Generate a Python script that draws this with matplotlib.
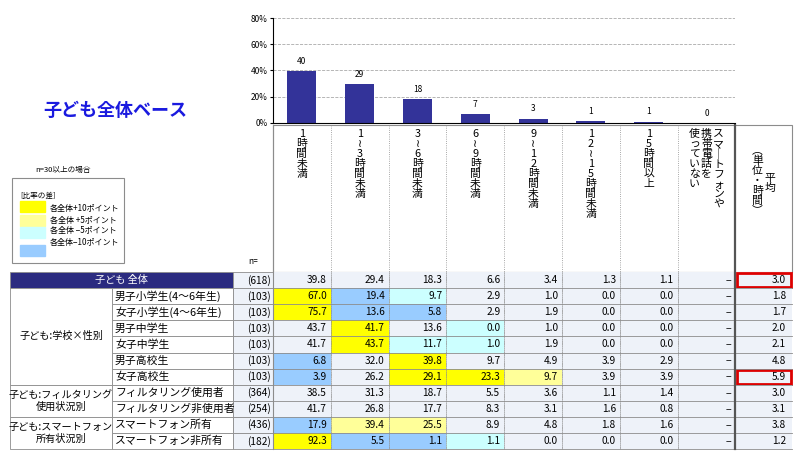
import matplotlib.pyplot as plt
from matplotlib.patches import Rectangle

plt.rcParams['font.family'] = ['Noto Sans CJK JP', 'DejaVu Sans']

# data
columns = ['1時間未満', '1≀3時間未満', '3≀6時間未満', '6≀9時間未満', '9≀12時間未満',
           '12≀15時間未満', '15時間以上', 'スマートフォンや|携帯電話を|使っていない']
groups = [('子ども:学校×性別', 1, 6), ('子ども:フィルタリング\n使用状況別', 7, 8),
          ('子ども:スマートフォン\n所有状況別', 9, 10)]
row_labels = ['子ども 全体', '男子小学生(4～6年生)', '女子小学生(4～6年生)', '男子中学生', '女子中学生',
              '男子高校生', '女子高校生', 'フィルタリング使用者', 'フィルタリング非使用者',
              'スマートフォン所有', 'スマートフォン非所有']
n_values = [618, 103, 103, 103, 103, 103, 103, 364, 254, 436, 182]
values = [
    [39.8, 29.4, 18.3, 6.6, 3.4, 1.3, 1.1],
    [67.0, 19.4, 9.7, 2.9, 1.0, 0.0, 0.0],
    [75.7, 13.6, 5.8, 2.9, 1.9, 0.0, 0.0],
    [43.7, 41.7, 13.6, 0.0, 1.0, 0.0, 0.0],
    [41.7, 43.7, 11.7, 1.0, 1.9, 0.0, 0.0],
    [6.8, 32.0, 39.8, 9.7, 4.9, 3.9, 2.9],
    [3.9, 26.2, 29.1, 23.3, 9.7, 3.9, 3.9],
    [38.5, 31.3, 18.7, 5.5, 3.6, 1.1, 1.4],
    [41.7, 26.8, 17.7, 8.3, 3.1, 1.6, 0.8],
    [17.9, 39.4, 25.5, 8.9, 4.8, 1.8, 1.6],
    [92.3, 5.5, 1.1, 1.1, 0.0, 0.0, 0.0],
]
averages = [3.0, 1.8, 1.7, 2.0, 2.1, 4.8, 5.9, 3.0, 3.1, 3.8, 1.2]
bar_values = [39.8, 29.4, 18.3, 6.6, 3.4, 1.3, 1.1, 0.0]
highlight_rows = [0, 6]

W, H = 800, 459
fig = plt.figure(figsize=(8, 4.59), dpi=100)
ax = fig.add_axes([0, 0, 1, 1])
ax.set_xlim(0, W)
ax.set_ylim(H, 0)
ax.axis('off')

x0, colw = 273, 57.8
avg_x0, avg_x1 = x0 + 8 * colw, 792
top, rowh = 272, 16.1
grey = '#8c8c8c'

# bar chart
bx = fig.add_axes([x0 / W, 1 - 123 / H, 8 * colw / W, 105 / H])
bx.bar(range(8), bar_values, width=0.5, color='#333399')
for i, v in enumerate(bar_values):
    bx.text(i, v + 4, f'{v:.0f}', ha='center', va='bottom', fontsize=6)
bx.set_xlim(-0.5, 7.5)
bx.set_ylim(0, 80)
bx.set_yticks([0, 20, 40, 60, 80])
bx.set_yticklabels(['0%', '20%', '40%', '60%', '80%'], fontsize=6)
bx.set_xticks([])
bx.yaxis.grid(True, linestyle='--', color='#aaaaaa', linewidth=0.6)
bx.set_axisbelow(True)
bx.patch.set_alpha(0)
for s in ['top', 'right']:
    bx.spines[s].set_visible(False)
bx.tick_params(axis='y', length=2, pad=2)

# title and legend
ax.text(43, 110, '子ども全体ベース', color='#1a1adf', fontsize=13,
        fontweight='bold', va='center')
ax.text(35, 170, 'n=30以上の場合', fontsize=5.5, va='center')
ax.add_patch(Rectangle((12, 178), 112, 85, fill=False, ec=grey, lw=0.8))
ax.text(20, 196, '[比率の差]', fontsize=5.5, va='center')
leg = [('#FFFF00', '各全体+10ポイント', 206), ('#FFFF99', '各全体 +5ポイント', 220),
       ('#CCFFFF', '各全体 −5ポイント', 232), ('#99CCFF', '各全体−10ポイント', 250)]
for c, t, y in leg:
    ax.add_patch(Rectangle((20, y - 5), 25, 11, color=c))
for t, y in zip([l[1] for l in leg], [209, 221, 231, 242]):
    ax.text(50, y, t, fontsize=5.8, va='center')
ax.text(248, 262, 'n=', fontsize=6, va='center')

# header cells
ax.add_patch(Rectangle((x0, 125), avg_x1 - x0, top - 125, fill=False, ec=grey, lw=0.8))
for j in range(1, 8):
    ax.plot([x0 + j * colw] * 2, [125, 449], color=grey, lw=0.6, ls=':')
for j, col in enumerate(columns):
    parts = col.split('|')
    cx = x0 + (j + 0.5) * colw
    offs = [(len(parts) - 1) / 2 - k for k in range(len(parts))]
    for p, o in zip(parts, offs):
        ax.text(cx + o * 12, 129, '\n'.join(p.replace('ー', '｜')), ha='center', va='top',
                fontsize=7.8, linespacing=1.0)
ax.text(avg_x0 + 35, 173, '平\n均', ha='center', va='top', fontsize=7.8, linespacing=1.0)
ax.text(avg_x0 + 22, 145, '\n'.join('(単位:時間)').replace('(', '︵').replace(')', '︶').replace(':', '・'),
        ha='center', va='top', fontsize=7.8, linespacing=1.0)


def cell_color(v, base):
    d = round(v - base, 1)
    if d > 10:
        return '#FFFF00'
    if d >= 5:
        return '#FFFF99'
    if d <= -10:
        return '#99CCFF'
    if d <= -5:
        return '#CCFFFF'
    return '#EEF2F9'


# table rows
fs = 7.3
for i, lab in enumerate(row_labels):
    y = top + i * rowh
    if i == 0:
        ax.add_patch(Rectangle((10, y), 223, rowh, fc='#2B2B80', ec=grey, lw=0.6))
        ax.text(121, y + rowh / 2, lab, color='white', ha='center', va='center', fontsize=fs)
    else:
        ax.add_patch(Rectangle((112, y), 121, rowh, fc='white', ec=grey, lw=0.6))
        ax.text(115, y + rowh / 2, lab, ha='left', va='center', fontsize=fs + 0.5)
    ax.add_patch(Rectangle((233, y), 40, rowh, fc='#EEF2F9', ec=grey, lw=0.6))
    ax.text(271, y + rowh / 2, f'({n_values[i]})', ha='right', va='center', fontsize=fs)
    for j, v in enumerate(values[i]):
        cx = x0 + j * colw
        ax.add_patch(Rectangle((cx, y), colw, rowh, fc=cell_color(v, values[0][j]), ec='none'))
        ax.text(cx + colw - 4, y + rowh / 2, f'{v:.1f}', ha='right', va='center', fontsize=fs)
    cx = x0 + 7 * colw
    ax.add_patch(Rectangle((cx, y), colw, rowh, fc='#EEF2F9', ec='none'))
    ax.text(cx + colw - 4, y + rowh / 2, '−', ha='right', va='center', fontsize=fs)
    ax.add_patch(Rectangle((avg_x0, y), avg_x1 - avg_x0, rowh, fc='#EEF2F9', ec='none'))
    ax.text(avg_x1 - 6, y + rowh / 2, f'{averages[i]:.1f}', ha='right', va='center', fontsize=fs)
    ax.plot([x0, avg_x1], [y + rowh] * 2, color=grey, lw=0.6)
    if i in highlight_rows:
        ax.add_patch(Rectangle((avg_x0 + 2, y + 1), avg_x1 - avg_x0 - 3, rowh - 2,
                               fill=False, ec='#dd0000', lw=2))

for j in range(1, 8):
    ax.plot([x0 + j * colw] * 2, [top, top + 11 * rowh], color=grey, lw=0.6, ls=':')
ax.plot([avg_x0] * 2, [125, top + 11 * rowh], color='#555555', lw=1.6)
ax.plot([x0, x0], [125, top + 11 * rowh], color=grey, lw=0.8)

for lab, r0, r1 in groups:
    y0 = top + r0 * rowh
    ax.add_patch(Rectangle((10, y0), 102, (r1 - r0 + 1) * rowh, fc='white', ec=grey, lw=0.6))
    ax.text(61, y0 + (r1 - r0 + 1) * rowh / 2, lab, ha='center', va='center', fontsize=fs,
            linespacing=1.3)

fig.savefig('out.png', dpi=100)
